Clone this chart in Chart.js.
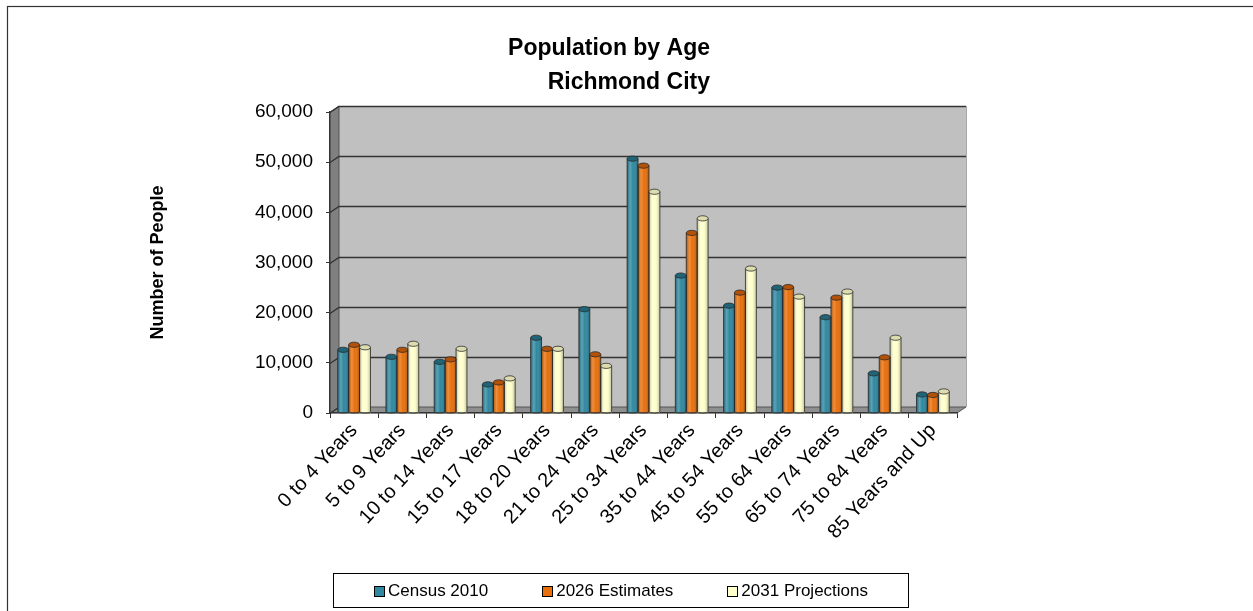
<!DOCTYPE html>
<html>
<head>
<meta charset="utf-8">
<title>Population by Age - Richmond City</title>
<script src="https://cdn.jsdelivr.net/npm/chart.js@4.4.1/dist/chart.umd.min.js"></script>
<style>
  html, body { margin: 0; padding: 0; background: #fff; }
  #chart { display: block; }
</style>
</head>
<body>
<canvas id="chart" width="1253" height="611"></canvas>
<script>
// ---- data ----
const ageGroups = [
  '0 to 4 Years', '5 to 9 Years', '10 to 14 Years', '15 to 17 Years',
  '18 to 20 Years', '21 to 24 Years', '25 to 34 Years', '35 to 44 Years',
  '45 to 54 Years', '55 to 64 Years', '65 to 74 Years', '75 to 84 Years',
  '85 Years and Up'
]
const census2010      = [12600, 11200, 10200, 5700, 15000, 20700, 50700, 27400, 21400, 25000, 19100, 7900, 3700]
const estimates2026   = [13600, 12600, 10700, 6100, 12800, 11700, 49300, 35900, 24000, 25100, 23000, 11100, 3600]
const projections2031 = [13100, 13800, 12800, 6900, 12800,  9400, 44100, 38800, 28800, 23200, 24200, 15000, 4300]
const seriesNames = ['Census 2010', '2026 Estimates', '2031 Projections']
const yTickValues = [0, 10000, 20000, 30000, 40000, 50000, 60000]
const titleLines = ['Population by Age', 'Richmond City']
const yAxisTitle = 'Number of People'

// ---- styling ----
const FONT = "'Liberation Sans', Arial, Helvetica, sans-serif"
const barColors = ['#2f88a0', '#e8700c', '#ffffcc']
const capColors = ['#1f6577', '#b25208', '#dcdcae']
const DEPTH_X = 9   // horizontal shift of the back wall
const DEPTH_Y = 6   // vertical shift of the back wall
const CAP_RY = 2.6

function poly(ctx, pts, fill, stroke) {
  ctx.beginPath()
  pts.forEach(([px, py], i) => i ? ctx.lineTo(px, py) : ctx.moveTo(px, py))
  ctx.closePath()
  if (fill) { ctx.fillStyle = fill; ctx.fill() }
  if (stroke) { ctx.strokeStyle = stroke; ctx.stroke() }
}

// walls, floor and back-wall gridlines of the 3D box
const box3d = {
  id: 'box3d',
  beforeDraw(chart) {
    const { ctx, chartArea: a } = chart
    const y = chart.scales.y
    const bl = a.left + DEPTH_X, br = a.right + DEPTH_X
    const bt = a.top - DEPTH_Y, bb = a.bottom - DEPTH_Y

    ctx.save()
    ctx.fillStyle = '#fff'
    ctx.fillRect(0, 0, chart.width, chart.height)

    // outer frame
    ctx.lineWidth = 1.2
    ctx.strokeStyle = '#333'
    ctx.strokeRect(7.5, 6.5, chart.width + 10, chart.height + 10)

    // back wall
    ctx.fillStyle = '#c0c0c0'
    ctx.fillRect(bl, bt, br - bl, bb - bt)
    ctx.lineWidth = 1
    ctx.strokeStyle = '#a8a8a8'
    ctx.beginPath()
    ctx.moveTo(br + 0.5, bt)
    ctx.lineTo(br + 0.5, bb)
    ctx.stroke()

    // side wall + floor
    ctx.lineWidth = 1
    poly(ctx, [[a.left, a.top], [bl, bt], [bl, bb], [a.left, a.bottom]], '#808080', '#555')
    poly(ctx, [[a.left, a.bottom], [bl, bb], [br, bb], [a.right, a.bottom]], '#8f8f8f', '#555')

    // gridlines running onto the back wall
    ctx.strokeStyle = '#333'
    ctx.lineWidth = 1.3
    y.ticks.forEach(t => {
      const py = Math.round(y.getPixelForValue(t.value)) + 0.5
      ctx.beginPath()
      ctx.moveTo(a.left, py)
      ctx.lineTo(bl, py - DEPTH_Y)
      if (t.value !== 0) ctx.lineTo(br, py - DEPTH_Y)
      ctx.stroke()
    })
    ctx.restore()
  }
}

// turns the flat bars into shaded cylinders
const cylinders = {
  id: 'cylinders',
  afterDatasetsDraw(chart) {
    const ctx = chart.ctx
    ctx.save()
    chart.data.datasets.forEach((ds, i) => {
      const meta = chart.getDatasetMeta(i)
      meta.data.forEach(bar => {
        const { x, y, base, width } = bar.getProps(['x', 'y', 'base', 'width'], true)
        const l = x - width / 2, r = x + width / 2
        const g = ctx.createLinearGradient(l, 0, r, 0)
        g.addColorStop(0, 'rgba(0,0,0,0.25)')
        g.addColorStop(0.28, 'rgba(255,255,255,0.22)')
        g.addColorStop(0.55, 'rgba(255,255,255,0)')
        g.addColorStop(1, 'rgba(0,0,0,0.28)')
        ctx.fillStyle = g
        ctx.fillRect(l, y, width, base - y)

        ctx.strokeStyle = '#2a2a2a'
        ctx.lineWidth = 0.8
        ctx.beginPath()
        ctx.moveTo(l, y)
        ctx.lineTo(l, base - 1)
        ctx.ellipse(x, base - 1, width / 2, 1.5, 0, Math.PI, 0, true)
        ctx.lineTo(r, y)
        ctx.stroke()

        ctx.beginPath()
        ctx.ellipse(x, y, width / 2, CAP_RY, 0, 0, Math.PI * 2)
        ctx.fillStyle = capColors[i]
        ctx.fill()
        ctx.stroke()
      })
    })
    ctx.restore()
  }
}

// two-line title and the boxed legend
const titleAndLegend = {
  id: 'titleAndLegend',
  afterDraw(chart) {
    const ctx = chart.ctx
    ctx.save()
    ctx.fillStyle = '#000'
    ctx.font = `bold 23px ${FONT}`
    ctx.textAlign = 'right'
    ctx.textBaseline = 'middle'
    ctx.fillText(titleLines[0], 710, 49)
    ctx.fillText(titleLines[1], 710, 83)

    // legend
    const lg = { x: 333.5, y: 573.5, w: 575, h: 34 }
    ctx.strokeStyle = '#000'
    ctx.lineWidth = 1
    ctx.strokeRect(lg.x, lg.y, lg.w, lg.h)

    ctx.font = `17px ${FONT}`
    ctx.textAlign = 'left'
    const sw = 10, gapText = 4, gapItem = 54
    const widths = seriesNames.map(n => sw + gapText + ctx.measureText(n).width)
    const total = widths.reduce((s, w) => s + w, 0) + gapItem * (widths.length - 1)
    let cx = lg.x + (lg.w - total) / 2
    const cy = lg.y + lg.h / 2
    seriesNames.forEach((n, i) => {
      ctx.fillStyle = barColors[i]
      ctx.fillRect(Math.round(cx) + 0.5, Math.round(cy - sw / 2) + 0.5, sw, sw)
      ctx.strokeStyle = '#000'
      ctx.strokeRect(Math.round(cx) + 0.5, Math.round(cy - sw / 2) + 0.5, sw, sw)
      ctx.fillStyle = '#000'
      ctx.fillText(n, cx + sw + gapText, cy + 1)
      cx += widths[i] + gapItem
    })
    ctx.restore()
  }
}

const seriesValues = [census2010, estimates2026, projections2031]

new Chart(document.getElementById('chart'), {
  type: 'bar',
  data: {
    labels: ageGroups,
    datasets: seriesNames.map((name, i) => ({
      label: name,
      data: seriesValues[i],
      backgroundColor: barColors[i],
      borderWidth: 0,
      categoryPercentage: 0.68,
      barPercentage: 1.0
    }))
  },
  options: {
    responsive: false,
    animation: false,
    devicePixelRatio: 1,
    layout: {
      padding: { left: 147, right: 296, top: 112, bottom: 38 }
    },
    plugins: {
      legend: { display: false },
      title: { display: false },
      tooltip: { enabled: false }
    },
    scales: {
      x: {
        grid: {
          offset: true,
          drawOnChartArea: false,
          drawTicks: true,
          tickLength: 5,
          color: '#333'
        },
        border: { display: true, color: '#333', width: 1.3 },
        ticks: {
          autoSkip: false,
          minRotation: 47,
          maxRotation: 47,
          padding: 1,
          color: '#000',
          font: { family: FONT, size: 20 }
        },
        afterFit(scale) { scale.height = 160 }
      },
      y: {
        min: 0,
        max: 60000,
        afterBuildTicks(scale) {
          scale.ticks = yTickValues.map(v => ({ value: v }))
        },
        grid: {
          drawOnChartArea: false,
          drawTicks: true,
          tickLength: 4,
          color: '#333'
        },
        border: { display: true, color: '#333', width: 1.3 },
        ticks: {
          padding: 13,
          color: '#000',
          font: { family: FONT, size: 19 },
          callback: v => v.toLocaleString('en-US')
        },
        title: {
          display: true,
          text: yAxisTitle,
          color: '#000',
          padding: 0,
          font: { family: FONT, size: 18, weight: 'bold' }
        },
        afterFit(scale) { scale.width = 183 }
      }
    }
  },
  plugins: [box3d, cylinders, titleAndLegend]
})
</script>
</body>
</html>
